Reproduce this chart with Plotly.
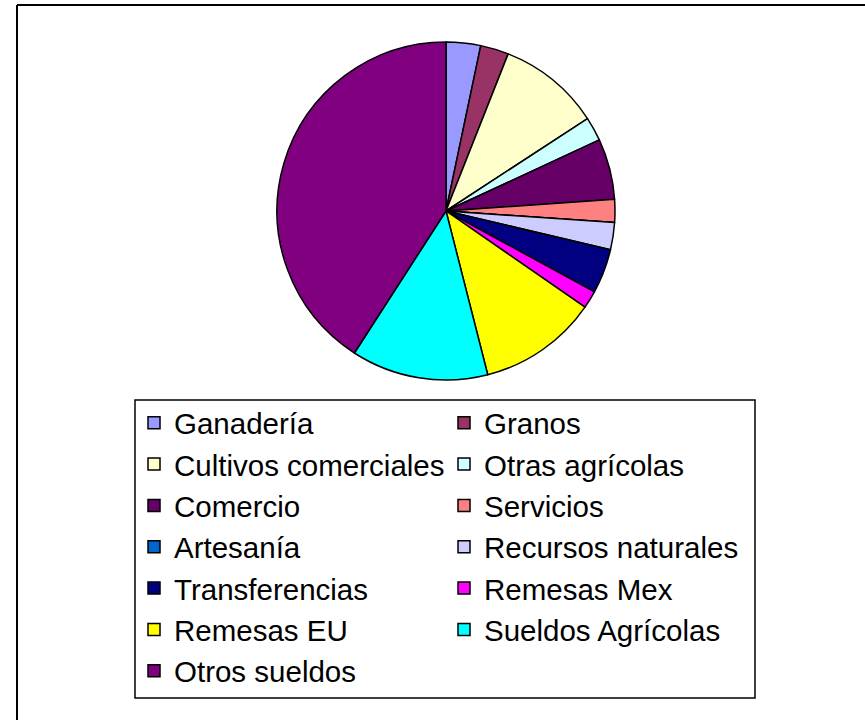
import plotly.graph_objects as go

categories = ["Ganadería", "Granos", "Cultivos comerciales", "Otras agrícolas",
              "Comercio", "Servicios", "Artesanía", "Recursos naturales",
              "Transferencias", "Remesas Mex", "Remesas EU", "Sueldos Agrícolas",
              "Otros sueldos"]
values = [3.3, 2.7, 9.8, 2.3, 5.8, 2.2, 0.0, 2.6, 4.25, 1.7, 11.4, 13.1, 40.9]
colors = ["#9999FF", "#993366", "#FFFFCC", "#CCFFFF", "#660066", "#FF8080",
          "#0066CC", "#CCCCFF", "#000080", "#FF00FF", "#FFFF00", "#00FFFF",
          "#800080"]

W, H = 865, 720


def px(x):
    return x / W


def py(y):
    return 1 - y / H


cx, cy, r = 446, 211, 169

fig = go.Figure(go.Pie(
    labels=categories, values=values, sort=False, direction="clockwise",
    rotation=0, textinfo="none", hoverinfo="label+percent",
    marker=dict(colors=colors, line=dict(color="black", width=1.5)),
    domain=dict(x=[px(cx - r), px(cx + r)], y=[py(cy + r), py(cy - r)]),
))

fig.update_layout(
    width=W, height=H,
    margin=dict(l=0, r=0, t=0, b=0),
    paper_bgcolor="white", plot_bgcolor="white",
    font=dict(family="Liberation Sans, Arial, sans-serif", color="black"),
    legend=dict(
        orientation="h", x=px(134), y=py(397),
        xanchor="left", yanchor="top",
        entrywidth=265, entrywidthmode="pixels",
        font=dict(size=29.5, family="Liberation Sans, Arial, sans-serif"),
        borderwidth=0, bgcolor="rgba(0,0,0,0)",
        traceorder="normal",
    ),
    shapes=[
        # legend frame
        dict(type="rect", xref="paper", yref="paper",
             x0=px(135), x1=px(755), y0=py(698), y1=py(400),
             line=dict(color="black", width=1.5), layer="below"),
        # outer chart frame (top and left edges visible)
        dict(type="line", xref="paper", yref="paper",
             x0=px(17), x1=1, y0=py(5), y1=py(5),
             line=dict(color="black", width=2)),
        dict(type="line", xref="paper", yref="paper",
             x0=px(17), x1=px(17), y0=py(5), y1=0,
             line=dict(color="black", width=2)),
    ],
)

fig.write_html("out.html", config={"displayModeBar": False},
               post_script="document.body.style.margin='0';")
